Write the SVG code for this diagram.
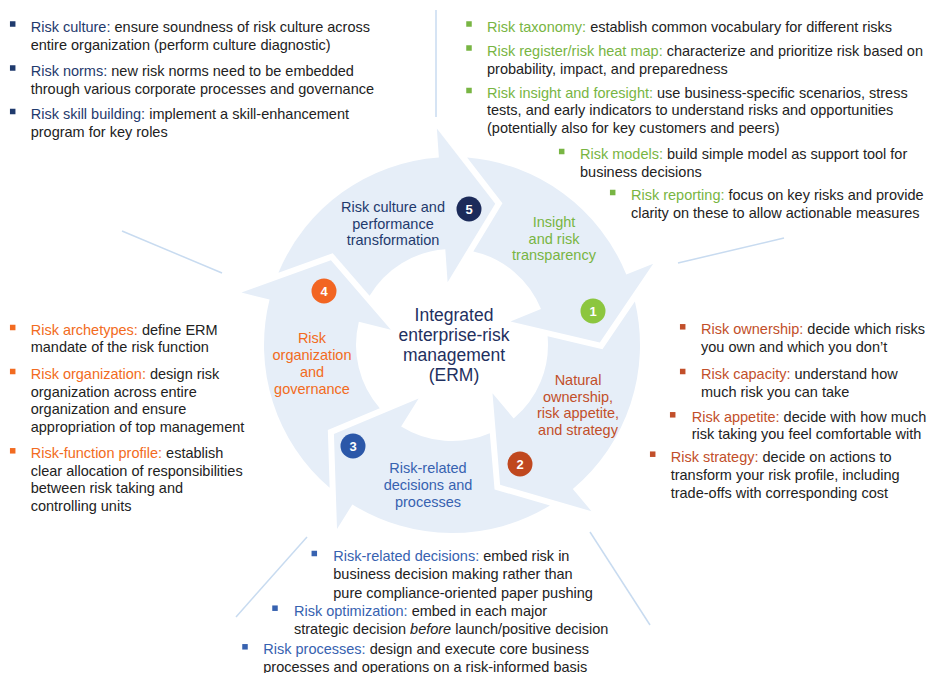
<svg xmlns="http://www.w3.org/2000/svg" width="929" height="673" viewBox="0 0 929 673">
<style>
text{font-family:"Liberation Sans",Arial,sans-serif;font-size:14.5px;fill:#222}
.arw{fill:#e6eef8}
.sep{stroke:#c8dbf0;stroke-width:1.5;fill:none}
.c5{fill:#1f3a6d}.c1{fill:#78b543}.c2{fill:#c24f2a}.c3{fill:#3762b0}.c4{fill:#f26b21}
.mid{text-anchor:middle}
.ctr{font-size:17.5px;fill:#1f3060;text-anchor:middle}
.num{font-size:13px;font-weight:bold;fill:#fff;text-anchor:middle}
</style>
<defs>
<path id="arw" d="M -168.1 -84.2 A 188 188 0 0 1 0 -188 L 0 -217 L 53 -138 L 0 -63 L 0 -96 A 96 96 0 0 0 -78.8 -54.8 L -112.6 -99.9 Z"/>
<rect id="b" x="-2.75" y="-2.75" width="5.5" height="5.5"/>
</defs>
<rect width="929" height="673" fill="#fff"/>

<g id="connectors">
<line class="sep" x1="436" y1="10" x2="436" y2="117"/>
<line class="sep" x1="678" y1="263" x2="784" y2="238"/>
<line class="sep" x1="122" y1="231" x2="222" y2="273"/>
<line class="sep" x1="236" y1="617" x2="307" y2="537"/>
<line class="sep" x1="590" y1="532" x2="650" y2="625"/>
</g>

<g id="seg5">
<use href="#arw" class="arw" transform="translate(452,345) rotate(-4)"/>
<text class="mid c5"><tspan x="393" y="212">Risk culture and</tspan><tspan x="393" y="229">performance</tspan><tspan x="393" y="245">transformation</tspan></text>
<circle cx="469" cy="209" r="12.5" fill="#1c2b5a"/><text class="num" x="469" y="213.5">5</text>
</g>
<g id="seg1">
<use href="#arw" class="arw" transform="translate(452,345) rotate(68)"/>
<text class="mid c1"><tspan x="554" y="226.5">Insight</tspan><tspan x="554" y="244">and risk</tspan><tspan x="554" y="260">transparency</tspan></text>
<circle cx="593" cy="311" r="12.5" fill="#8cc63f"/><text class="num" x="593" y="315.5">1</text>
</g>
<g id="seg2">
<use href="#arw" class="arw" transform="translate(452,345) rotate(140)"/>
<text class="mid c2"><tspan x="578" y="385">Natural</tspan><tspan x="578" y="402">ownership,</tspan><tspan x="578" y="418">risk appetite,</tspan><tspan x="578" y="435">and strategy</tspan></text>
<circle cx="520" cy="464" r="12.5" fill="#c0481f"/><text class="num" x="520" y="468.5">2</text>
</g>
<g id="seg3">
<use href="#arw" class="arw" transform="translate(452,345) rotate(212)"/>
<text class="mid c3"><tspan x="428" y="473">Risk-related</tspan><tspan x="428" y="490">decisions and</tspan><tspan x="428" y="507">processes</tspan></text>
<circle cx="353" cy="446" r="12.5" fill="#2b57a8"/><text class="num" x="353" y="450.5">3</text>
</g>
<g id="seg4">
<use href="#arw" class="arw" transform="translate(452,345) rotate(284)"/>
<text class="mid c4"><tspan x="312" y="343">Risk</tspan><tspan x="312" y="360">organization</tspan><tspan x="312" y="377">and</tspan><tspan x="312" y="394">governance</tspan></text>
<circle cx="324" cy="291" r="12.5" fill="#f26522"/><text class="num" x="324" y="295.5">4</text>
</g>

<g id="center">
<text class="ctr"><tspan x="454" y="321">Integrated</tspan><tspan x="454" y="341">enterprise-risk</tspan><tspan x="454" y="361">management</tspan><tspan x="454" y="381">(ERM)</tspan></text>
</g>

<g id="culture-notes">
<use href="#b" class="c5" x="12.7" y="24"/><use href="#b" class="c5" x="12.7" y="68"/><use href="#b" class="c5" x="12.7" y="111.5"/>
<text x="30.7" y="31.5"><tspan class="c5">Risk culture:</tspan> ensure soundness of risk culture across</text>
<text x="30.7" y="49.5">entire organization (perform culture diagnostic)</text>
<text x="30.7" y="75.5"><tspan class="c5">Risk norms:</tspan> new risk norms need to be embedded</text>
<text x="30.7" y="93.5">through various corporate processes and governance</text>
<text x="30.7" y="119"><tspan class="c5">Risk skill building:</tspan> implement a skill-enhancement</text>
<text x="30.7" y="137">program for key roles</text>
</g>

<g id="insight-notes">
<use href="#b" class="c1" x="469" y="24"/><use href="#b" class="c1" x="469" y="48"/><use href="#b" class="c1" x="469" y="90.5"/>
<use href="#b" class="c1" x="561.7" y="151.5"/><use href="#b" class="c1" x="612.7" y="192.5"/>
<text x="487" y="31.5"><tspan class="c1">Risk taxonomy:</tspan> establish common vocabulary for different risks</text>
<text x="487" y="55.5"><tspan class="c1">Risk register/risk heat map:</tspan> characterize and prioritize risk based on</text>
<text x="487" y="74">probability, impact, and preparedness</text>
<text x="487" y="98"><tspan class="c1">Risk insight and foresight:</tspan> use business-specific scenarios, stress</text>
<text x="487" y="115">tests, and early indicators to understand risks and opportunities</text>
<text x="487" y="133">(potentially also for key customers and peers)</text>
<text x="580" y="159"><tspan class="c1">Risk models:</tspan> build simple model as support tool for</text>
<text x="580" y="176.5">business decisions</text>
<text x="631" y="200"><tspan class="c1">Risk reporting:</tspan> focus on key risks and provide</text>
<text x="631" y="217.5">clarity on these to allow actionable measures</text>
</g>

<g id="ownership-notes">
<use href="#b" class="c2" x="682.7" y="326.8"/><use href="#b" class="c2" x="682.7" y="371.5"/><use href="#b" class="c2" x="672.7" y="414.8"/><use href="#b" class="c2" x="652.7" y="454.2"/>
<text x="701" y="334.3"><tspan class="c2">Risk ownership:</tspan> decide which risks</text>
<text x="701" y="351.7">you own and which you don’t</text>
<text x="701" y="379"><tspan class="c2">Risk capacity:</tspan> understand how</text>
<text x="701" y="396.7">much risk you can take</text>
<text x="691.7" y="422.3"><tspan class="c2">Risk appetite:</tspan> decide with how much</text>
<text x="691.7" y="439.3">risk taking you feel comfortable with</text>
<text x="670.7" y="461.7"><tspan class="c2">Risk strategy:</tspan> decide on actions to</text>
<text x="670.7" y="480">transform your risk profile, including</text>
<text x="670.7" y="497.7">trade-offs with corresponding cost</text>
</g>

<g id="organization-notes">
<use href="#b" class="c4" x="12.7" y="327.5"/><use href="#b" class="c4" x="12.7" y="371.5"/><use href="#b" class="c4" x="12.7" y="450.8"/>
<text x="30.7" y="335"><tspan class="c4">Risk archetypes:</tspan> define ERM</text>
<text x="30.7" y="351.7">mandate of the risk function</text>
<text x="30.7" y="379"><tspan class="c4">Risk organization:</tspan> design risk</text>
<text x="30.7" y="396.7">organization across entire</text>
<text x="30.7" y="414.3">organization and ensure</text>
<text x="30.7" y="432.3">appropriation of top management</text>
<text x="30.7" y="458.3"><tspan class="c4">Risk-function profile:</tspan> establish</text>
<text x="30.7" y="476">clear allocation of responsibilities</text>
<text x="30.7" y="493.3">between risk taking and</text>
<text x="30.7" y="511">controlling units</text>
</g>

<g id="decision-notes">
<use href="#b" class="c3" x="314.3" y="553.5"/><use href="#b" class="c3" x="275" y="608.2"/><use href="#b" class="c3" x="245" y="646.8"/>
<text x="333.3" y="561"><tspan class="c3">Risk-related decisions:</tspan> embed risk in</text>
<text x="333.3" y="579.3">business decision making rather than</text>
<text x="333.3" y="597.7">pure compliance-oriented paper pushing</text>
<text x="294" y="615.7"><tspan class="c3">Risk optimization:</tspan> embed in each major</text>
<text x="294" y="634">strategic decision <tspan font-style="italic">before</tspan> launch/positive decision</text>
<text x="263.3" y="654.3"><tspan class="c3">Risk processes:</tspan> design and execute core business</text>
<text x="263.3" y="671.7">processes and operations on a risk-informed basis</text>
</g>
</svg>
